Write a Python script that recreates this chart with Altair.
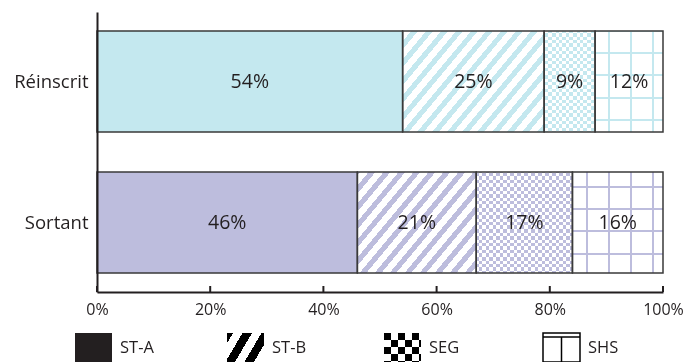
import math
import altair as alt
import pandas as pd

# ---------------- data ----------------
groups = ["Réinscrit", "Sortant"]
categories = ["ST-A", "ST-B", "SEG", "SHS"]
reinscrit_pct = [54, 25, 9, 12]
sortant_pct = [46, 21, 17, 16]
x_ticks = [0, 20, 40, 60, 80, 100]
legend_labels = ["ST-A", "ST-B", "SEG", "SHS"]

# ---------------- style ----------------
FONT = "Open Sans"
INK = "#231f20"
EDGE = "#3a3a3a"
WHITE = "#ffffff"
BLACK = "#000000"
group_color = {"Réinscrit": "#c4e8ef", "Sortant": "#bdbddd"}

W, H = 566, 280
STEP = 141.0
GAP = 40.0
P_IN = GAP / STEP
P_OUT = 19.0 / STEP
BAND = STEP - GAP

rows = []
for g, vals in zip(groups, [reinscrit_pct, sortant_pct]):
    acc = 0
    for c, v in zip(categories, vals):
        rows.append({"group": g, "cat": c, "value": v, "start": acc,
                     "end": acc + v, "mid": acc + v / 2, "label": f"{v}%"})
        acc += v
df = pd.DataFrame(rows)


# ---------------- pattern helpers (fill styles) ----------------
def stops_1d(length, period, on_frac, phase, on_c, off_c):
    on_len = on_frac * period

    def state(p):
        return on_c if ((p + phase) % period) < on_len else off_c

    cuts = set()
    k = math.floor(phase / period) - 1
    while k * period - phase < length:
        for b in (k * period - phase, k * period - phase + on_len):
            if 0 < b < length:
                cuts.add(round(b, 4))
        k += 1
    out = []
    cur = state(0.0)
    out.append((0.0, cur))
    for b in sorted(cuts):
        nxt = state(b + 1e-3)
        if nxt != cur:
            out.append((b / length, cur))
            out.append((b / length, nxt))
            cur = nxt
    out.append((1.0, cur))
    return [alt.GradientStop(offset=round(o, 5), color=c) for o, c in out]


def grad_x(length, period, on_frac, phase, on_c, off_c):
    return alt.LinearGradient(gradient="linear",
                              stops=stops_1d(length, period, on_frac, phase, on_c, off_c),
                              x1=0, y1=0, x2=1, y2=0)


def grad_y(length, period, on_frac, phase, on_c, off_c):
    return alt.LinearGradient(gradient="linear",
                              stops=stops_1d(length, period, on_frac, phase, on_c, off_c),
                              x1=0, y1=0, x2=0, y2=1)


def grad_diag(w, h, k, period_x, on_frac, phase, on_c, off_c):
    span = k * w + h
    a = k * w / span
    b = h / span
    n = a * a + b * b
    return alt.LinearGradient(gradient="linear",
                              stops=stops_1d(span, period_x * k, on_frac, phase, on_c, off_c),
                              x1=0, y1=0, x2=a / n, y2=b / n)


x_scale = alt.Scale(domain=[0, 100], nice=False, zero=True)
y_scale = alt.Scale(type="band", domain=groups, paddingInner=P_IN, paddingOuter=P_OUT)

x_axis = alt.Axis(values=x_ticks, labelExpr="datum.value + '%'", title="",
                  grid=False, ticks=False, domainColor=INK, domainWidth=2,
                  labelFont=FONT, labelFontSize=16, labelColor=INK,
                  labelPadding=9, labelFlush=False, labelOverlap=False, zindex=1)
y_axis = alt.Axis(title="", ticks=False, domainColor=INK, domainWidth=2,
                  labelFont=FONT, labelFontSize=18.5, labelColor=INK,
                  labelPadding=9, zindex=1)


def X(field):
    return alt.X(field, scale=x_scale, axis=x_axis)


def Y(field):
    return alt.Y(field, scale=y_scale, axis=y_axis)


layers = []


def seg_layer(g, c, **mark):
    return alt.Chart(df).transform_filter(
        f"datum.group === '{g}' && datum.cat === '{c}'"
    ).mark_bar(**mark).encode(x=X("start:Q"), x2="end:Q", y=Y("group:N"))


for r in df.itertuples():
    gi = groups.index(r.group)
    col = group_color[r.group]
    x0 = r.start / 100 * W
    w = r.value / 100 * W
    y0 = P_OUT * STEP + gi * STEP
    h = BAND
    if r.cat == "ST-A":
        layers.append(seg_layer(r.group, r.cat, fill=col))
    elif r.cat == "ST-B":
        layers.append(seg_layer(r.group, r.cat,
                                fill=grad_diag(w, h, 1.2, 15.0, 0.45, 1.2 * x0 + y0, col, WHITE)))
    elif r.cat == "SEG":
        cell = 3.5
        layers.append(seg_layer(r.group, r.cat, fill=grad_x(w, 2 * cell, 0.5, x0, BLACK, WHITE)))
        layers.append(seg_layer(r.group, r.cat, fill=grad_y(h, 2 * cell, 0.5, y0, BLACK, WHITE),
                                blend="difference"))
        layers.append(seg_layer(r.group, r.cat, fill=col, blend="lighten"))
    else:  # SHS grid
        layers.append(seg_layer(r.group, r.cat,
                                fill=grad_x(w, 22.2, 2 / 22.2, x0 - 511, col, WHITE)))
        layers.append(seg_layer(r.group, r.cat,
                                fill=grad_y(h, 22.3, 2 / 22.3, y0 - 40, col, WHITE),
                                blend="darken"))

# outlines
outline = alt.Chart(df).mark_bar(fillOpacity=0, stroke=EDGE, strokeWidth=1.5).encode(
    x=X("start:Q"), x2="end:Q", y=Y("group:N"))
layers.append(outline)

texts = alt.Chart(df).mark_text(font=FONT, fontSize=19.5, color=INK).encode(
    x=X("mid:Q"), y=Y("group:N"), text="label:N")
layers.append(texts)

ticks = alt.Chart(pd.DataFrame({"tick": x_ticks})).mark_rule(color=INK, strokeWidth=2).encode(
    x=X("tick:Q"), y=alt.value(H - 6), y2=alt.value(H))
layers.append(ticks)

# ---------------- legend ----------------
legend_df = pd.DataFrame({"label": legend_labels})
SQ_X = [-22, 130, 287, 446]
SQ = 37
LY0, LY1 = 321, 350


def leg_rect(i, **mark):
    return alt.Chart(legend_df).transform_filter(
        f"datum.label === '{legend_labels[i]}'"
    ).mark_rect(**mark).encode(
        x=alt.value(SQ_X[i]), x2=alt.value(SQ_X[i] + SQ),
        y=alt.value(LY0), y2=alt.value(LY1),
    )


def leg_rule(i, xa, xb, ya, yb):
    return alt.Chart(legend_df).transform_filter(
        f"datum.label === '{legend_labels[i]}'"
    ).mark_rule(color=BLACK, strokeWidth=1.5).encode(
        x=alt.value(xa), x2=alt.value(xb), y=alt.value(ya), y2=alt.value(yb),
    )


lh = LY1 - LY0
layers.append(leg_rect(0, fill=INK))
layers.append(leg_rect(1, fill=grad_diag(SQ, lh, 1.7, 19.0, 0.5, 6.0, BLACK, WHITE)))
layers.append(leg_rect(2, fill=grad_x(SQ, 14.0, 0.5, 0.0, BLACK, WHITE)))
layers.append(leg_rect(2, fill=grad_y(lh, 14.0, 0.5, 0.0, BLACK, WHITE), blend="difference"))
layers.append(leg_rect(3, fill=WHITE, stroke=BLACK, strokeWidth=1.5))
layers.append(leg_rule(3, SQ_X[3], SQ_X[3] + SQ, LY0 + 4, LY0 + 4))
layers.append(leg_rule(3, SQ_X[3] + SQ / 2, SQ_X[3] + SQ / 2, LY0 + 4, LY1))

for i, lab in enumerate(legend_labels):
    layers.append(
        alt.Chart(legend_df).transform_filter(f"datum.label === '{lab}'").mark_text(
            align="left", baseline="middle", font=FONT, fontSize=16.5, color=INK
        ).encode(x=alt.value(SQ_X[i] + 45), y=alt.value(336), text="label:N")
    )

chart = alt.layer(*layers).properties(
    width=W, height=H,
    padding={"left": 97, "top": 12, "right": 20, "bottom": 70},
    autosize=alt.AutoSizeParams(type="none"),
).configure_view(strokeWidth=0)

chart.save("out.html", embed_options={"renderer": "svg", "actions": False})
